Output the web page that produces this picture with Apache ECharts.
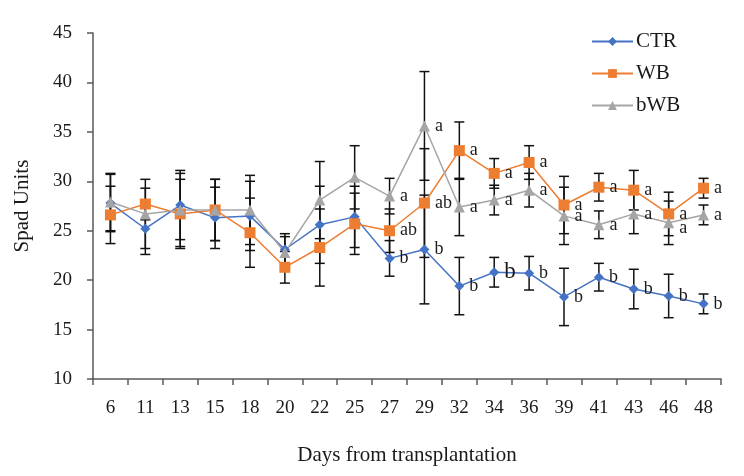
<!DOCTYPE html>
<html>
<head>
<meta charset="utf-8">
<script src="https://cdn.jsdelivr.net/npm/echarts@6/dist/echarts.min.js"></script>
<style>
  html, body { margin: 0; padding: 0; background: #fff; }
  #chart { width: 744px; height: 476px; }
</style>
</head>
<body>
<div id="chart"></div>
<script>
const days = ['6', '11', '13', '15', '18', '20', '22', '25', '27', '29', '32', '34', '36', '39', '41', '43', '46', '48']

const ctr = [27.8, 25.2, 27.6, 26.3, 26.5, 23.1, 25.6, 26.4, 22.2, 23.1, 19.4, 20.8, 20.7, 18.3, 20.3, 19.1, 18.4, 17.6]
const ctrErr = [2.9, 2.6, 3.5, 3.1, 3.5, 1.6, 3.9, 3.1, 1.8, 5.5, 2.9, 1.5, 1.7, 2.9, 1.4, 2.0, 2.2, 1.0]
const ctrLetters = ['', '', '', '', '', '', '', '', 'b', 'b', 'b', 'b', 'b', 'b', 'b', 'b', 'b', 'b']

const wb = [26.6, 27.7, 26.7, 27.1, 24.8, 21.3, 23.3, 25.7, 25.0, 27.8, 33.1, 30.8, 31.9, 27.6, 29.4, 29.1, 26.7, 29.3]
const wbErr = [2.9, 1.6, 3.5, 3.1, 3.5, 1.6, 3.9, 3.1, 2.2, 5.5, 2.9, 1.5, 1.7, 2.9, 1.4, 2.0, 2.2, 1.0]
const wbLetters = ['', '', '', '', '', '', '', '', 'ab', 'ab', 'a', 'a', 'a', 'a', 'a', 'a', 'a', 'a']

const bwb = [27.9, 26.7, 27.1, 27.1, 27.1, 22.8, 28.1, 30.4, 28.5, 35.6, 27.4, 28.1, 29.1, 26.5, 25.6, 26.7, 25.8, 26.6]
const bwbErr = [2.9, 3.5, 3.7, 3.1, 3.5, 1.6, 3.9, 3.2, 1.8, 5.5, 2.9, 1.5, 1.7, 2.9, 1.4, 2.0, 2.2, 1.0]
const bwbLetters = ['', '', '', '', '', '', '', '', 'a', 'a', 'a', 'a', 'a', 'a', 'a', 'a', 'a', 'a']

const font = 'Liberation Serif'
const txt = '#1a1a1a'

// line series with a letter next to each point
function lineSeries(name, values, letters, color, symbol, size) {
  return {
    name,
    type: 'line',
    z: 3,
    symbol,
    symbolSize: size,
    lineStyle: { color, width: 1.5 },
    itemStyle: { color },
    label: {
      show: true,
      position: 'right',
      distance: 5,
      color: txt,
      fontFamily: font,
      fontSize: 18,
      formatter: (p) => letters[p.dataIndex]
    },
    data: values.map((v, i) => {
      // the "b" at day 34 is printed larger in the original
      if (name === 'CTR' && days[i] === '34') return { value: v, label: { fontSize: 23 } }
      // the gray "a" at day 46 sits a little lower
      if (name === 'bWB' && days[i] === '46') return { value: v, label: { offset: [0, 5] } }
      return v
    })
  }
}

// black error bars with caps
function errSeries(values, errs) {
  return {
    type: 'custom',
    z: 2,
    silent: true,
    renderItem(params, api) {
      const i = api.value(0)
      const hi = api.coord([i, api.value(1)])
      const lo = api.coord([i, api.value(2)])
      const w = 5
      const style = { stroke: '#111', lineWidth: 1.5 }
      return {
        type: 'group',
        children: [
          { type: 'line', shape: { x1: hi[0], y1: hi[1], x2: lo[0], y2: lo[1] }, style },
          { type: 'line', shape: { x1: hi[0] - w, y1: hi[1], x2: hi[0] + w, y2: hi[1] }, style },
          { type: 'line', shape: { x1: lo[0] - w, y1: lo[1], x2: lo[0] + w, y2: lo[1] }, style }
        ]
      }
    },
    encode: { x: 0, y: [1, 2] },
    data: values.map((v, i) => [i, +(v + errs[i]).toFixed(2), +(v - errs[i]).toFixed(2)])
  }
}

const chart = echarts.init(document.getElementById('chart'))
chart.setOption({
  backgroundColor: '#fff',
  animation: false,
  textStyle: { fontFamily: font },
  grid: { left: 93, right: 23, top: 33, bottom: 97 },
  legend: {
    orient: 'vertical',
    left: 586,
    top: 26,
    itemWidth: 41,
    itemHeight: 11,
    itemGap: 11,
    textStyle: { fontFamily: font, fontSize: 21, color: txt, padding: [0, 0, 0, -2] },
    data: ['CTR', 'WB', 'bWB']
  },
  xAxis: {
    type: 'category',
    data: days,
    boundaryGap: true,
    name: 'Days from transplantation',
    nameLocation: 'middle',
    nameGap: 66,
    nameTextStyle: { fontFamily: font, fontSize: 21, color: txt },
    axisLine: { lineStyle: { color: '#595959', width: 1.5 } },
    axisTick: { show: true, length: 6, alignWithLabel: false, lineStyle: { color: '#595959', width: 1.5 } },
    axisLabel: { fontFamily: font, fontSize: 19, color: txt, margin: 20 }
  },
  yAxis: {
    type: 'value',
    min: 10,
    max: 45,
    interval: 5,
    name: 'Spad Units',
    nameLocation: 'middle',
    nameGap: 60,
    nameRotate: 90,
    nameTextStyle: { fontFamily: font, fontSize: 21, color: txt },
    splitLine: { show: false },
    axisLine: { show: true, lineStyle: { color: '#595959', width: 1.5 } },
    axisTick: { show: true, length: 6, lineStyle: { color: '#595959', width: 1.5 } },
    axisLabel: { fontFamily: font, fontSize: 19, color: txt, margin: 21 }
  },
  series: [
    errSeries(ctr, ctrErr),
    errSeries(wb, wbErr),
    errSeries(bwb, bwbErr),
    lineSeries('CTR', ctr, ctrLetters, '#4472C4', 'diamond', 10),
    lineSeries('WB', wb, wbLetters, '#ED7D31', 'rect', 11),
    lineSeries('bWB', bwb, bwbLetters, '#A5A5A5', 'triangle', 11)
  ]
})
</script>
</body>
</html>
